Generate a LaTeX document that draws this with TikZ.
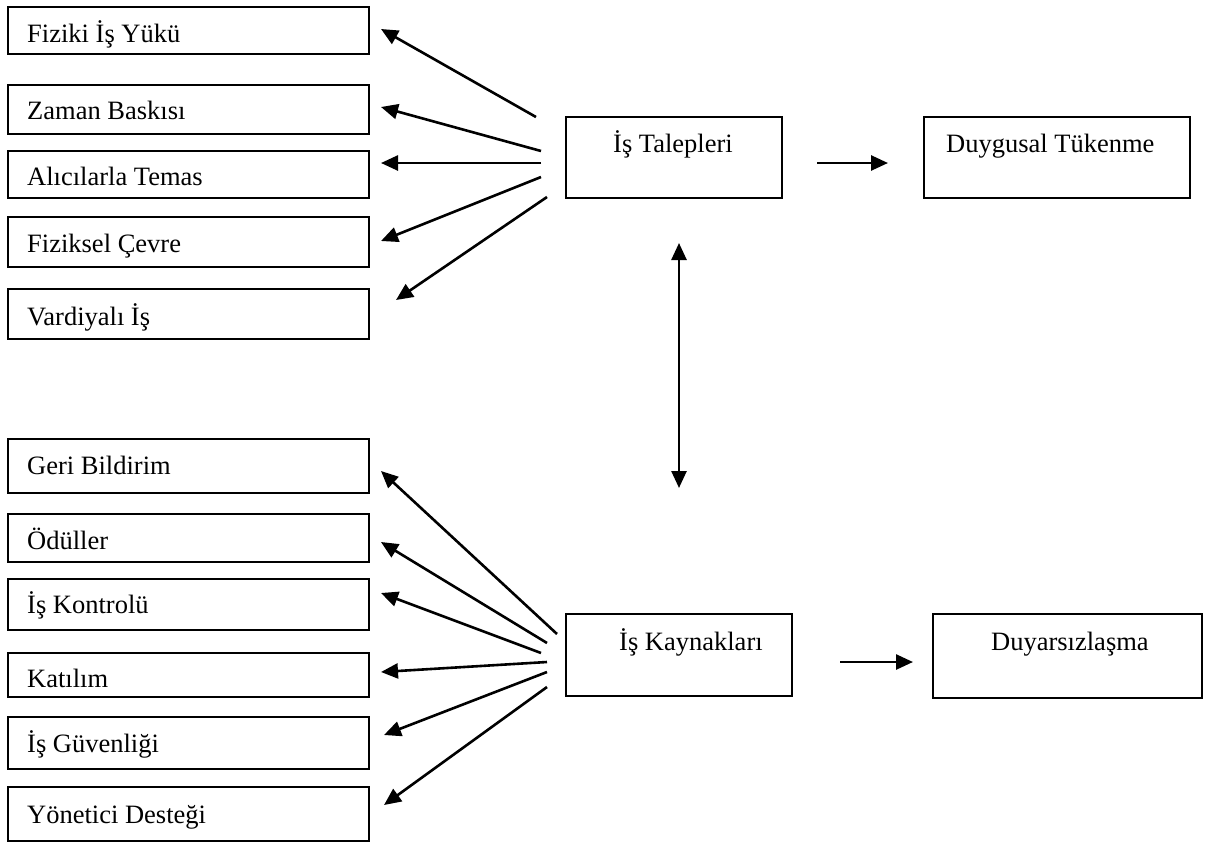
\documentclass[tikz,border=0pt]{standalone}
\usepackage{fontspec}
\setmainfont{Liberation Serif}
\usetikzlibrary{arrows.meta}
\begin{document}
\begin{tikzpicture}[x=1pt,y=-1pt,
  box/.style={draw, line width=1.9pt, inner sep=0pt, outer sep=0pt, anchor=north west},
  lbox/.style={box, minimum width=361pt},
  txt/.style={anchor=base west, inner sep=0pt, font=\fontsize{26.5}{30}\selectfont},
  arr/.style={line width=2.6pt, -{Triangle[length=17pt,width=15pt]}},
  darr/.style={line width=2.6pt, {Triangle[length=17pt,width=15pt]}-{Triangle[length=17pt,width=15pt]}}]
\useasboundingbox (0,0) rectangle (1207,844);
% left top group
\node[lbox, minimum height=47pt] (b1) at (8,7) {};
\node[txt] (t1) at (27,42) {Fiziki İş Yükü};
\node[lbox, minimum height=49pt] (b2) at (8,85) {};
\node[txt] (t2) at (27,119) {Zaman Baskısı};
\node[lbox, minimum height=47pt] (b3) at (8,151) {};
\node[txt] (t3) at (27,185) {Alıcılarla Temas};
\node[lbox, minimum height=50pt] (b4) at (8,217) {};
\node[txt] (t4) at (27,252) {Fiziksel Çevre};
\node[lbox, minimum height=50pt] (b5) at (8,289) {};
\node[txt] (t5) at (27,325) {Vardiyalı İş};
% left bottom group
\node[lbox, minimum height=54pt] (c1) at (8,439) {};
\node[txt] (u1) at (27,474) {Geri Bildirim};
\node[lbox, minimum height=48pt] (c2) at (8,514) {};
\node[txt] (u2) at (27,549) {Ödüller};
\node[lbox, minimum height=51pt] (c3) at (8,579) {};
\node[txt] (u3) at (27,613) {İş Kontrolü};
\node[lbox, minimum height=44pt] (c4) at (8,653) {};
\node[txt] (u4) at (27,687) {Katılım};
\node[lbox, minimum height=52pt] (c5) at (8,717) {};
\node[txt] (u5) at (27,752) {İş Güvenliği};
\node[lbox, minimum height=54pt] (c6) at (8,787) {};
\node[txt] (u6) at (27,823) {Yönetici Desteği};
% center and right boxes
\node[box, minimum width=216pt, minimum height=81pt] (T) at (566,117) {};
\node[txt] (Tt) at (613,152) {İş Talepleri};
\node[box, minimum width=266pt, minimum height=81pt] (D) at (924,117) {};
\node[txt] (Dt) at (946,152) {Duygusal Tükenme};
\node[box, minimum width=226pt, minimum height=82pt] (K) at (566,614) {};
\node[txt] (Kt) at (619,650) {İş Kaynakları};
\node[box, minimum width=269pt, minimum height=84pt] (S) at (933,614) {};
\node[txt] (St) at (991,650) {Duyarsızlaşma};
% arrow coordinates (top)
\coordinate (ts1) at (536,117); \coordinate (te1) at (381,29);
\coordinate (ts2) at (541,151); \coordinate (te2) at (381,107);
\coordinate (ts3) at (541,163); \coordinate (te3) at (381,163);
\coordinate (ts4) at (541,177); \coordinate (te4) at (381,241);
\coordinate (ts5) at (547,197); \coordinate (te5) at (396,300);
\draw[arr] (ts1) -- (te1);
\draw[arr] (ts2) -- (te2);
\draw[arr] (ts3) -- (te3);
\draw[arr] (ts4) -- (te4);
\draw[arr] (ts5) -- (te5);
% arrow coordinates (bottom)
\coordinate (ks1) at (557,634); \coordinate (ke1) at (381,471);
\coordinate (ks2) at (547,643); \coordinate (ke2) at (381,542);
\coordinate (ks3) at (541,653); \coordinate (ke3) at (381,593);
\coordinate (ks4) at (547,662); \coordinate (ke4) at (381,672);
\coordinate (ks5) at (547,672); \coordinate (ke5) at (384,735);
\coordinate (ks6) at (547,687); \coordinate (ke6) at (384,805);
\draw[arr] (ks1) -- (ke1);
\draw[arr] (ks2) -- (ke2);
\draw[arr] (ks3) -- (ke3);
\draw[arr] (ks4) -- (ke4);
\draw[arr] (ks5) -- (ke5);
\draw[arr] (ks6) -- (ke6);
% right arrows
\coordinate (r1s) at (817,163); \coordinate (r1e) at (888,163);
\coordinate (r2s) at (840,662); \coordinate (r2e) at (913,662);
\draw[arr] (r1s) -- (r1e);
\draw[arr] (r2s) -- (r2e);
% vertical double arrow
\coordinate (v1) at (679,243); \coordinate (v2) at (679,488);
\draw[darr] (v1) -- (v2);
\end{tikzpicture}
\end{document}
